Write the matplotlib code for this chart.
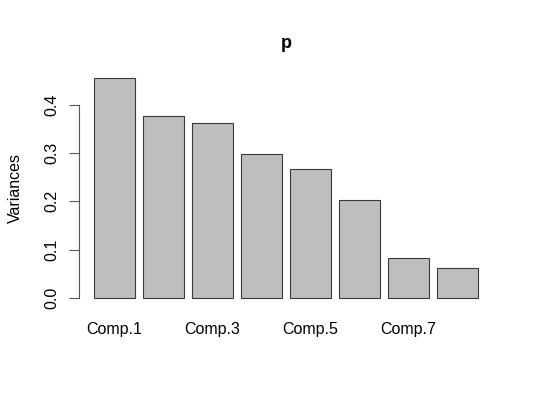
import matplotlib
matplotlib.use("Agg")
import matplotlib.pyplot as plt

categories = ["Comp.1", "Comp.2", "Comp.3", "Comp.4", "Comp.5", "Comp.6", "Comp.7", "Comp.8"]
variances = [0.455, 0.376, 0.362, 0.298, 0.268, 0.202, 0.082, 0.061]
shown_labels = ["Comp.1", "", "Comp.3", "", "Comp.5", "", "Comp.7", ""]
yticks = [0.0, 0.1, 0.2, 0.3, 0.4]

plt.rcParams['font.family'] = ['Liberation Sans', 'DejaVu Sans']

fig = plt.figure(figsize=(5.34, 3.98), dpi=100)
ax = fig.add_axes([0.1473, 0.2299, 0.7766, 0.5952])

xs = [0.7 + 1.2 * i for i in range(len(categories))]
ax.bar(xs, variances, width=1.0, color='#bebebe', edgecolor='#3a3a3a', linewidth=0.8)

n = len(categories)
xlo, xhi = 0.2, 0.2 + 1.2 * n - 0.2
ext = 0.04 * (xhi - xlo)
ax.set_xlim(xlo - ext, xhi + ext)
ymax = max(variances)
ax.set_ylim(-0.04 * ymax, ymax * 1.04)

for s in ['top', 'right', 'bottom']:
    ax.spines[s].set_visible(False)
ax.spines['left'].set_bounds(yticks[0], yticks[-1])
ax.spines['left'].set_color('#555555')

ax.set_yticks(yticks)
ax.set_yticklabels([f"{t:.1f}" for t in yticks], rotation=90, va='center', fontsize=11.5)
ax.tick_params(axis='y', length=7, width=0.8, color='#555555', pad=7)

ax.set_xticks([])
for x, lab in zip(xs, shown_labels):
    if lab:
        ax.text(x, -0.0656, lab, ha='center', va='center', fontsize=11.5,
                transform=ax.transData)

ax.set_ylabel("Variances", fontsize=11.5, labelpad=15)
fig.text(0.5356, 1 - 43 / 398, "p", ha='center', va='center', fontsize=13, fontweight='bold')

fig.savefig("out.png", dpi=100)
